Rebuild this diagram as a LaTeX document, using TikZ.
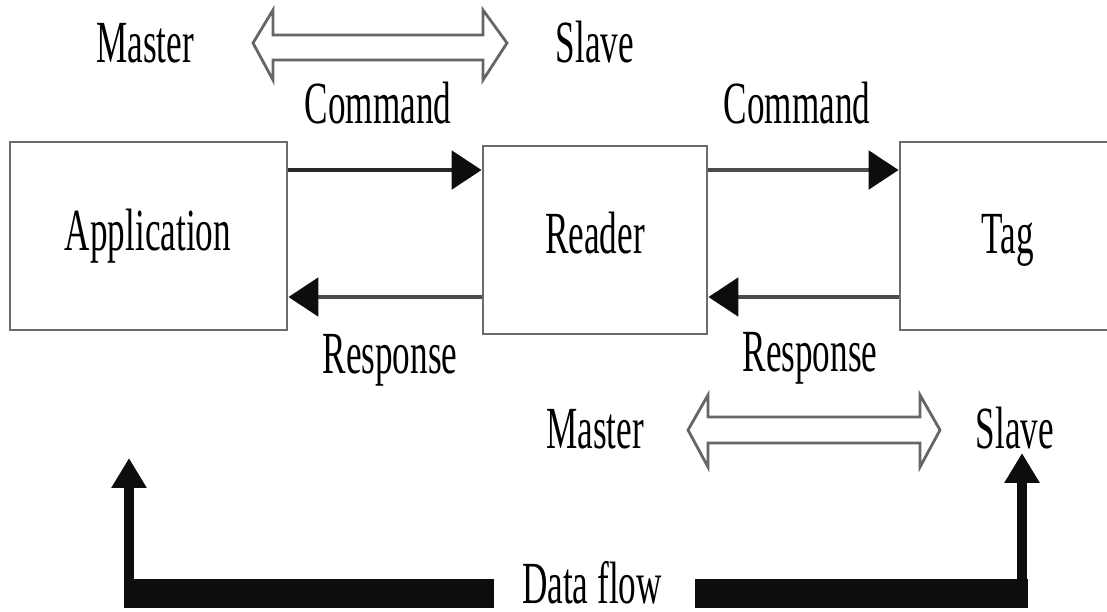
\documentclass[tikz,border=0pt]{standalone}
\usepackage{amsmath, graphicx, tikz}
\usepackage{fontspec}
\setmainfont{Liberation Serif}
\usetikzlibrary{arrows.meta}

\newcommand{\tallt}[1]{\scalebox{1}[1.7]{#1}}
\tikzset{
    blk/.style={draw=gray!85!black, line width=0.8pt, fill=white},
    lbl/.style={anchor=base, inner sep=0pt, font=\fontsize{10}{12}\selectfont},
    cmd/.style={line width=0.9pt, -{Triangle[length=8.5pt, width=11pt, color=black!95]}},
    hollow/.style={draw=gray!80!black, line width=0.8pt, fill=white},
    upflow/.style={line width=2.9pt, -{Triangle[length=8.5pt, width=9.5pt]}}
}

\begin{document}
\begin{tikzpicture}[x=0.01cm, y=-0.01cm]
                \useasboundingbox (0,0) rectangle (1107,611);
                \node[blk, minimum width=2.77cm, minimum height=1.88cm] (app) at (148.5,236) {};
                \node[blk, minimum width=2.24cm, minimum height=1.88cm] (reader) at (595,240) {};
                \node[blk, minimum width=2.2cm, minimum height=1.88cm] (tag) at (1010,236) {};
                \node[lbl] at (148,250) {\tallt{Application}};
                \node[lbl] at (595,253) {\tallt{Reader}};
                \node[lbl] at (1008,253) {\tallt{Tag}};
                \draw[cmd, black!85] (app.east |- 0,170) -- (reader.west |- 0,170);
                \draw[cmd, gray!60!black] (reader.west |- 0,297) -- (app.east |- 0,297);
                \draw[cmd, gray!60!black] (reader.east |- 0,170) -- (tag.west |- 0,170);
                \draw[cmd, gray!60!black] (tag.west |- 0,297) -- (reader.east |- 0,297);
                \node[lbl] at (378,123) {\tallt{Command}};
                \node[lbl] at (797,123) {\tallt{Command}};
                \node[lbl] at (390,373) {\tallt{Response}};
                \node[lbl] at (810,371) {\tallt{Response}};
                \node[lbl] at (145,62) {\tallt{Master}};
                \node[lbl] at (595,62) {\tallt{Slave}};
                \node[lbl] at (595,448) {\tallt{Master}};
                \node[lbl] at (1015,448) {\tallt{Slave}};
                \draw[hollow] (253,43) -- (273,10) -- (273,35) -- (483,35) -- (483,10) -- (507,43)
                    -- (483,80) -- (483,60) -- (273,60) -- (273,80) -- cycle;
                \draw[hollow] (688,430) -- (708,395) -- (708,417) -- (920,417) -- (920,395) -- (940,430)
                    -- (920,467) -- (920,443) -- (708,443) -- (708,467) -- cycle;
                \node[lbl] (flow) at (592,603) {\tallt{Data flow}};
                \fill[black!95] (124,579) rectangle (494,608);
                \fill[black!95] (695,579) rectangle (1028,608);
                \draw[upflow, black!95] (129,590) -- (129,458);
                \draw[upflow, black!95] (1022,590) -- (1022,453);
            \end{tikzpicture}
\end{document}
